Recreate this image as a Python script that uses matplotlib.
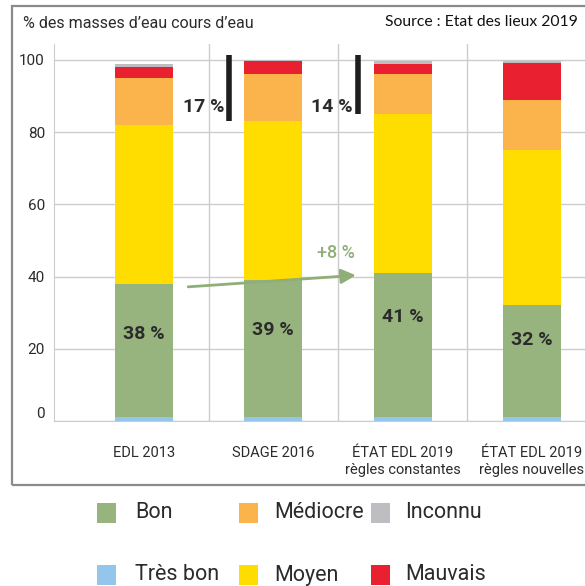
import numpy as np
import matplotlib
matplotlib.use('Agg')
import matplotlib.pyplot as plt
from matplotlib.patches import Rectangle

categories = ['EDL 2013', 'SDAGE 2016', 'ÉTAT EDL 2019\nrègles constantes', 'ÉTAT EDL 2019\nrègles nouvelles']
tres_bon = [1.2, 1.2, 1.2, 1.2]
bon = [36.8, 37.8, 39.8, 30.8]
moyen = [44.0, 44.0, 44.0, 43.0]
mediocre = [13.1, 13.0, 11.0, 13.9]
mauvais = [2.8, 3.7, 3.0, 10.2]
inconnu = [1.0, 0.3, 0.6, 0.7]
bon_labels = ['38 %', '39 %', '41 %', '32 %']
bon_label_y = [24, 25.2, 28.8, 22.4]

series = [('Très bon', tres_bon, '#93c6ea'),
          ('Bon', bon, '#97b47e'),
          ('Moyen', moyen, '#ffdd00'),
          ('Médiocre', mediocre, '#fbb34c'),
          ('Mauvais', mauvais, '#e8202f'),
          ('Inconnu', inconnu, '#bdbdc2')]
colors = {name: col for name, _, col in series}

plt.rcParams['font.family'] = ['Roboto', 'DejaVu Sans']
txt = '#2b2b2b'
grid = '#cccccc'

fig = plt.figure(figsize=(5.85, 5.86), dpi=100)
W, H = 585, 586
ax = fig.add_axes([54 / W, (H - 421) / H, (W - 54) / W, 377 / H])

x = np.arange(len(categories))
bottom = np.zeros(len(categories))
for name, vals, col in series:
    ax.bar(x, vals, bottom=bottom, width=0.45, color=col, zorder=3)
    bottom += np.array(vals)

ax.set_xlim(-0.696, 3.41)
ax.set_ylim(0, 104.4)
ax.set_yticks([0, 20, 40, 60, 80, 100])
ax.tick_params(axis='y', length=0, labelsize=11, colors=txt, pad=6.5)
ax.get_yticklabels()[0].set_va('bottom')
ax.set_xticks(x)
ax.set_xticklabels(categories, fontsize=10.5, color=txt, linespacing=1.3)
ax.tick_params(axis='x', length=0, pad=18)
ax.grid(axis='y', color=grid, lw=1, zorder=0)
for xv in [0.5, 1.5, 2.5]:
    ax.axvline(xv, color=grid, lw=1, zorder=0)
for s in ['top', 'right']:
    ax.spines[s].set_visible(False)
for s in ['left', 'bottom']:
    ax.spines[s].set_color(grid)

# labels on Bon segments
for i, lab in enumerate(bon_labels):
    ax.text(x[i], bon_label_y[i], lab, ha='center', va='center', fontsize=14,
            fontweight='bold', color=txt, zorder=4)

# gap bars
ax.plot([0.66, 0.66], [83, 101.4], color='#1e1e1e', lw=4, solid_capstyle='butt', zorder=4)
ax.text(0.465, 87, '17 %', ha='center', va='center', fontsize=14, fontweight='bold', color=txt)
ax.plot([1.655, 1.655], [85, 101.4], color='#1e1e1e', lw=4, solid_capstyle='butt', zorder=4)
ax.text(1.455, 87, '14 %', ha='center', va='center', fontsize=14, fontweight='bold', color=txt)

# green arrow
ax.annotate('', xy=(1.66, 40.4), xytext=(0.32, 37.1),
            arrowprops=dict(arrowstyle='-|>', color='#8fae78', lw=2,
                            mutation_scale=22), zorder=5)
ax.text(1.485, 46.5, '+8 %', ha='center', va='center', fontsize=13,
        fontweight='medium', color='#8fae78')

fig.text(23 / W, 1 - 24 / H, '% des masses d’eau cours d’eau', fontsize=11.5,
         color=txt, va='center')
fig.text(385 / W, 1 - 22 / H, 'Source : Etat des lieux 2019', fontsize=11.3,
         color='#111111', va='center', family=['Lato', 'DejaVu Sans'])

frame = Rectangle((12 / W, 1 - 485 / H), 1, (485 - 6) / H, transform=fig.transFigure,
                  fill=False, edgecolor='#8a8a8a', lw=1.6)
fig.add_artist(frame)

# legend, laid out by hand in three columns
leg_names = [['Bon', 'Très bon'], ['Médiocre', 'Moyen'], ['Inconnu', 'Mauvais']]
col_box_x = [97, 239, 371]
col_text_x = [135, 274, 405]
row_y = [513, 575]
for c, names in enumerate(leg_names):
    for r, name in enumerate(names):
        fig.add_artist(Rectangle(((col_box_x[c]) / W, 1 - (row_y[r] + 10) / H), 19 / W, 20 / H,
                                 transform=fig.transFigure, color=colors[name], lw=0))
        fig.text(col_text_x[c] / W, 1 - row_y[r] / H, name, fontsize=15.5, color=txt,
                 va='center', ha='left')

fig.savefig('out.png', dpi=100)
